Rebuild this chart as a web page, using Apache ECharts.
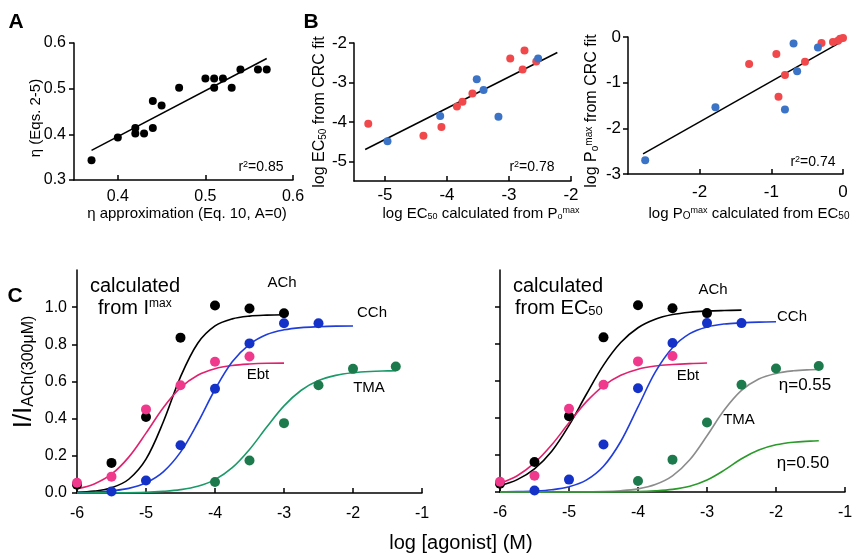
<!DOCTYPE html>
<html>
<head>
<meta charset="utf-8">
<script src="https://cdn.jsdelivr.net/npm/echarts@6/dist/echarts.min.js"></script>
<style>
  html, body { margin: 0; padding: 0; background: #fff; }
  #chart { width: 856px; height: 554px; }
</style>
</head>
<body>
<div id="chart"></div>
<script>
// ---- panel A: eta (Eqs. 2-5) vs eta approximation ----
const aX = [0.37, 0.40, 0.42, 0.42, 0.43, 0.44, 0.44, 0.45, 0.47, 0.50, 0.51, 0.51, 0.52, 0.53, 0.54, 0.56, 0.57]
const aY = [0.343, 0.393, 0.414, 0.402, 0.402, 0.414, 0.473, 0.463, 0.502, 0.522, 0.522, 0.502, 0.522, 0.502, 0.542, 0.542, 0.542]
const aFit = [[0.37, 0.365], [0.57, 0.566]]

// ---- panel B: log EC50 ----
const bRed = [[-5.27, -4.05], [-4.38, -4.35], [-4.09, -4.13], [-3.84, -3.61], [-3.75, -3.49], [-3.59, -3.28], [-2.98, -2.39], [-2.75, -2.19], [-2.78, -2.67], [-2.56, -2.47]]
const bBlue = [[-4.96, -4.49], [-4.11, -3.85], [-3.52, -2.92], [-3.41, -3.19], [-3.17, -3.87], [-2.53, -2.39]]
const bFit = [[-5.32, -4.70], [-2.22, -2.24]]

// ---- panel B right: log Po max ----
const pRed = [[-1.31, -0.59], [-0.93, -0.37], [-0.81, -0.83], [-0.90, -1.31], [-0.53, -0.54], [-0.30, -0.13], [-0.14, -0.11], [-0.07, -0.08], [-0.04, -0.04], [0.0, -0.02]]
const pBlue = [[-2.76, -2.70], [-1.78, -1.54], [-0.81, -1.59], [-0.69, -0.14], [-0.64, -0.75], [-0.35, -0.23]]
const pFit = [[-2.79, -2.56], [-0.05, -0.13]]

// ---- panel C: concentration-response ----
const achPts = [[-6, 0.045], [-5.5, 0.162], [-5, 0.409], [-4.5, 0.836], [-4, 1.009], [-3.5, 0.993], [-3, 0.967]]
const ebtPts = [[-6, 0.055], [-5.5, 0.088], [-5, 0.45], [-4.5, 0.58], [-4, 0.706], [-3.5, 0.735]]
const cchPts = [[-5.5, 0.008], [-5, 0.067], [-4.5, 0.257], [-4, 0.561], [-3.5, 0.805], [-3, 0.913], [-2.5, 0.913]]
const tmaPts = [[-4, 0.059], [-3.5, 0.175], [-3, 0.376], [-2.5, 0.58], [-2, 0.668], [-1.38, 0.681]]

// fitted curves
const x6to3 = [-6, -5.75, -5.5, -5.25, -5, -4.75, -4.5, -4.25, -4, -3.75, -3.5, -3.25, -3]
const x6to25 = [-6, -5.75, -5.5, -5.25, -5, -4.75, -4.5, -4.25, -4, -3.75, -3.5, -3.25, -3, -2.75, -2.5]
const x6to2 = [-6, -5.75, -5.5, -5.25, -5, -4.75, -4.5, -4.25, -4, -3.75, -3.5, -3.25, -3, -2.75, -2.5, -2.25, -2]
const xTmaL = [-6, -5.5, -5, -4.75, -4.5, -4.25, -4, -3.75, -3.5, -3.25, -3, -2.75, -2.5, -2.25, -2, -1.75, -1.5, -1.38]
const xTmaR = [-6, -5.5, -5, -4.5, -4.25, -4, -3.75, -3.5, -3.25, -3, -2.75, -2.5, -2.25, -2, -1.75, -1.5, -1.38]
const xTma50 = [-6, -5, -4.5, -4, -3.75, -3.5, -3.25, -3, -2.75, -2.5, -2.25, -2, -1.75, -1.5, -1.38]

const achFitL = [0.004, 0.010, 0.028, 0.074, 0.182, 0.382, 0.625, 0.806, 0.899, 0.937, 0.952, 0.957, 0.959]
const ebtFitL = [0.023, 0.049, 0.101, 0.193, 0.322, 0.459, 0.567, 0.634, 0.669, 0.686, 0.694, 0.698, 0.699]
const cchFitL = [0.002, 0.005, 0.012, 0.025, 0.055, 0.114, 0.22, 0.378, 0.557, 0.706, 0.80, 0.853, 0.878, 0.89, 0.895, 0.898, 0.899]
const tmaFitL = [0, 0.001, 0.004, 0.009, 0.018, 0.036, 0.072, 0.136, 0.234, 0.355, 0.469, 0.553, 0.605, 0.633, 0.647, 0.654, 0.657, 0.658]

const achFitR = [0.035, 0.067, 0.125, 0.22, 0.36, 0.527, 0.686, 0.808, 0.888, 0.934, 0.959, 0.972, 0.978, 0.981, 0.983]
const ebtFitR = [0.047, 0.088, 0.157, 0.255, 0.374, 0.487, 0.574, 0.631, 0.664, 0.681, 0.689, 0.694, 0.697]
const cchFitR = [0.001, 0.002, 0.005, 0.012, 0.028, 0.064, 0.139, 0.273, 0.46, 0.648, 0.78, 0.856, 0.892, 0.908, 0.914, 0.918, 0.92]
const tma55FitR = [0, 0, 0.001, 0.003, 0.007, 0.017, 0.040, 0.087, 0.174, 0.304, 0.443, 0.549, 0.611, 0.641, 0.655, 0.661, 0.662]
const tma50FitR = [0, 0, 0, 0.002, 0.006, 0.014, 0.031, 0.065, 0.118, 0.18, 0.227, 0.255, 0.269, 0.275, 0.277]

const FONT = 'Liberation Sans, Arial, sans-serif'

function zip(xs, ys) {
  return xs.map((x, i) => [x, ys[i]])
}

function axisBase(extra) {
  return Object.assign({
    type: 'value',
    splitLine: { show: false },
    axisLine: { show: true, onZero: false, lineStyle: { color: '#000', width: 1.5 } },
    axisTick: { show: true, length: 5, lineStyle: { color: '#000', width: 1.5 } },
    axisLabel: { color: '#000', fontSize: 16, fontFamily: FONT },
  }, extra)
}

function xAx(gi, min, max, ticks, fs, margin, fmt) {
  return axisBase({
    gridIndex: gi, min: min, max: max,
    axisTick: { show: true, inside: true, length: 5, customValues: ticks, lineStyle: { color: '#000', width: 1.5 } },
    axisLabel: { color: '#000', fontSize: fs, fontFamily: FONT, margin: margin, customValues: ticks, formatter: fmt },
  })
}

function yAx(gi, min, max, ticks, fs, margin, fmt, showLabel) {
  return axisBase({
    gridIndex: gi, min: min, max: max,
    axisTick: { show: true, inside: false, length: 5, customValues: ticks, lineStyle: { color: '#000', width: 1.5 } },
    axisLabel: { show: showLabel !== false, color: '#000', fontSize: fs, fontFamily: FONT, margin: margin, customValues: ticks, formatter: fmt },
  })
}

function dots(idx, data, color, size) {
  return { type: 'scatter', xAxisIndex: idx, yAxisIndex: idx, data: data, symbolSize: size, itemStyle: { color: color, opacity: 1 }, clip: false, z: 3 }
}

function line(idx, data, color, width, smooth) {
  return { type: 'line', xAxisIndex: idx, yAxisIndex: idx, data: data, showSymbol: false, smooth: smooth ? 0.35 : false, lineStyle: { color: color, width: width }, clip: false, z: 2 }
}

function txt(x, y, text, size, opts) {
  return Object.assign({
    type: 'text', x: x, y: y,
    style: Object.assign({ text: text, fontSize: size, fontFamily: FONT, fill: '#000', align: 'center', verticalAlign: 'middle' }, (opts && opts.style) || {}),
  }, (opts && opts.el) || {})
}

const one = v => v.toFixed(1)
const int = v => String(Math.round(v))

const chart = echarts.init(document.getElementById('chart'), null, { renderer: 'canvas' })

const option = {
  animation: false,
  backgroundColor: '#fff',
  textStyle: { fontFamily: FONT },
  grid: [
    { left: 74, top: 43, width: 219, height: 137 },
    { left: 354, top: 43, width: 217, height: 138 },
    { left: 628, top: 37, width: 215, height: 137 },
    { left: 77, top: 270, width: 345, height: 223 },
    { left: 500, top: 270, width: 345, height: 222 },
  ],
  xAxis: [
    xAx(0, 0.35, 0.6, [0.4, 0.5, 0.6], 16, 9, one),
    xAx(1, -5.5, -2, [-5, -4, -3, -2], 17, 6, int),
    xAx(2, -3, 0, [-2, -1, 0], 17, 10, int),
    xAx(3, -6, -1, [-6, -5, -4, -3, -2, -1], 16, 13, int),
    xAx(4, -6, -1, [-6, -5, -4, -3, -2, -1], 16, 13, int),
  ],
  yAxis: [
    yAx(0, 0.3, 0.6, [0.3, 0.4, 0.5, 0.6], 16, 8, one),
    yAx(1, -5.5, -2, [-5, -4, -3, -2], 17, 7, int),
    yAx(2, -3, 0, [-3, -2, -1, 0], 17, 7, int),
    yAx(3, 0, 1.2, [0, 0.2, 0.4, 0.6, 0.8, 1.0], 16, 10, one),
    yAx(4, 0, 1.2, [0, 0.2, 0.4, 0.6, 0.8, 1.0], 16, 10, one, false),
  ],
  series: [
    line(0, aFit, '#000', 1.5, false),
    dots(0, zip(aX, aY), '#000', 8),

    line(1, bFit, '#000', 1.5, false),
    dots(1, bRed, '#f0484b', 8),
    dots(1, bBlue, '#3b73c6', 8),

    line(2, pFit, '#000', 1.5, false),
    dots(2, pRed, '#f0484b', 8),
    dots(2, pBlue, '#3b73c6', 8),

    line(3, zip(x6to3, achFitL), '#000', 1.6, true),
    line(3, zip(x6to3, ebtFitL), '#e0226e', 1.6, true),
    line(3, zip(x6to2, cchFitL), '#1f3ddc', 1.6, true),
    line(3, zip(xTmaL, tmaFitL), '#1a9a68', 1.6, true),
    dots(3, achPts, '#000', 10),
    dots(3, ebtPts, '#f0388c', 10),
    dots(3, cchPts, '#1432c8', 10),
    dots(3, tmaPts, '#1d7a4c', 10),

    line(4, zip(x6to25, achFitR), '#000', 1.6, true),
    line(4, zip(x6to3, ebtFitR), '#e0226e', 1.6, true),
    line(4, zip(x6to2, cchFitR), '#1f3ddc', 1.6, true),
    line(4, zip(xTmaR, tma55FitR), '#8c8c8c', 1.6, true),
    line(4, zip(xTma50, tma50FitR), '#2a9a2a', 1.6, true),
    dots(4, achPts, '#000', 10),
    dots(4, ebtPts, '#f0388c', 10),
    dots(4, cchPts, '#1432c8', 10),
    dots(4, tmaPts, '#1d7a4c', 10),
  ],
  graphic: [
    // panel letters
    txt(16, 22, 'A', 21, { style: { fontWeight: 'bold' } }),
    txt(311, 22, 'B', 21, { style: { fontWeight: 'bold' } }),
    txt(15, 296, 'C', 21, { style: { fontWeight: 'bold' } }),

    // panel A titles
    txt(187, 214, 'η approximation (Eq. 10, A=0)', 15),
    txt(36, 118, 'η (Eqs. 2-5)', 15, { el: { rotation: Math.PI / 2 } }),
    txt(261, 167, '{n|r}{s|2}{n|=0.85}', 14, { style: { rich: { n: { fontSize: 14, fontFamily: FONT }, s: { fontSize: 9, fontFamily: FONT, verticalAlign: 'top' } } } }),

    // panel B titles
    txt(481, 214, '{n|log EC}{b|50}{n| calculated from P}{b|o}{t|max}', 15, { style: { rich: { n: { fontSize: 15, fontFamily: FONT }, b: { fontSize: 9, fontFamily: FONT, verticalAlign: 'bottom' }, t: { fontSize: 9, fontFamily: FONT, verticalAlign: 'top' } } } }),
    txt(320, 112, '{n|log EC}{b|50}{n| from CRC fit}', 16, { el: { rotation: Math.PI / 2 }, style: { rich: { n: { fontSize: 16, fontFamily: FONT }, b: { fontSize: 10, fontFamily: FONT, verticalAlign: 'bottom' } } } }),
    txt(532, 167, '{n|r}{s|2}{n|=0.78}', 14, { style: { rich: { n: { fontSize: 14, fontFamily: FONT }, s: { fontSize: 9, fontFamily: FONT, verticalAlign: 'top' } } } }),

    // panel B right titles
    txt(749, 214, '{n|log P}{b|O}{t|max}{n| calculated from EC}{b|50}', 15, { style: { rich: { n: { fontSize: 15, fontFamily: FONT }, b: { fontSize: 10, fontFamily: FONT, verticalAlign: 'bottom' }, t: { fontSize: 9, fontFamily: FONT, verticalAlign: 'top' } } } }),
    txt(592, 111, '{n|log P}{b|o}{t|max}{n| from CRC fit}', 16, { el: { rotation: Math.PI / 2 }, style: { rich: { n: { fontSize: 16, fontFamily: FONT }, b: { fontSize: 10, fontFamily: FONT, verticalAlign: 'bottom' }, t: { fontSize: 10, fontFamily: FONT, verticalAlign: 'top' } } } }),
    txt(813, 162, '{n|r}{s|2}{n|=0.74}', 14, { style: { rich: { n: { fontSize: 14, fontFamily: FONT }, s: { fontSize: 9, fontFamily: FONT, verticalAlign: 'top' } } } }),

    // panel C titles
    txt(24, 372, '{n|I/I}{b|ACh(300μM)}', 26, { el: { rotation: Math.PI / 2 }, style: { rich: { n: { fontSize: 26, fontFamily: FONT }, b: { fontSize: 16, fontFamily: FONT, verticalAlign: 'bottom' } } } }),
    txt(461, 543, 'log [agonist] (M)', 20),

    txt(90, 286, 'calculated', 20, { style: { align: 'left' } }),
    txt(98, 308, '{n|from I}{t|max}', 20, { style: { align: 'left', rich: { n: { fontSize: 20, fontFamily: FONT }, t: { fontSize: 12, fontFamily: FONT, verticalAlign: 'top' } } } }),
    txt(513, 286, 'calculated', 20, { style: { align: 'left' } }),
    txt(515, 308, '{n|from EC}{b|50}', 20, { style: { align: 'left', rich: { n: { fontSize: 20, fontFamily: FONT }, b: { fontSize: 13, fontFamily: FONT, verticalAlign: 'bottom' } } } }),

    txt(282, 283, 'ACh', 15),
    txt(372, 313, 'CCh', 15),
    txt(258, 375, 'Ebt', 15),
    txt(369, 388, 'TMA', 15),

    txt(713, 290, 'ACh', 15),
    txt(792, 317, 'CCh', 15),
    txt(688, 376, 'Ebt', 15),
    txt(739, 420, 'TMA', 15),
    txt(805, 385, 'η=0.55', 17),
    txt(803, 463, 'η=0.50', 17),
  ],
}

chart.setOption(option)
</script>
</body>
</html>
